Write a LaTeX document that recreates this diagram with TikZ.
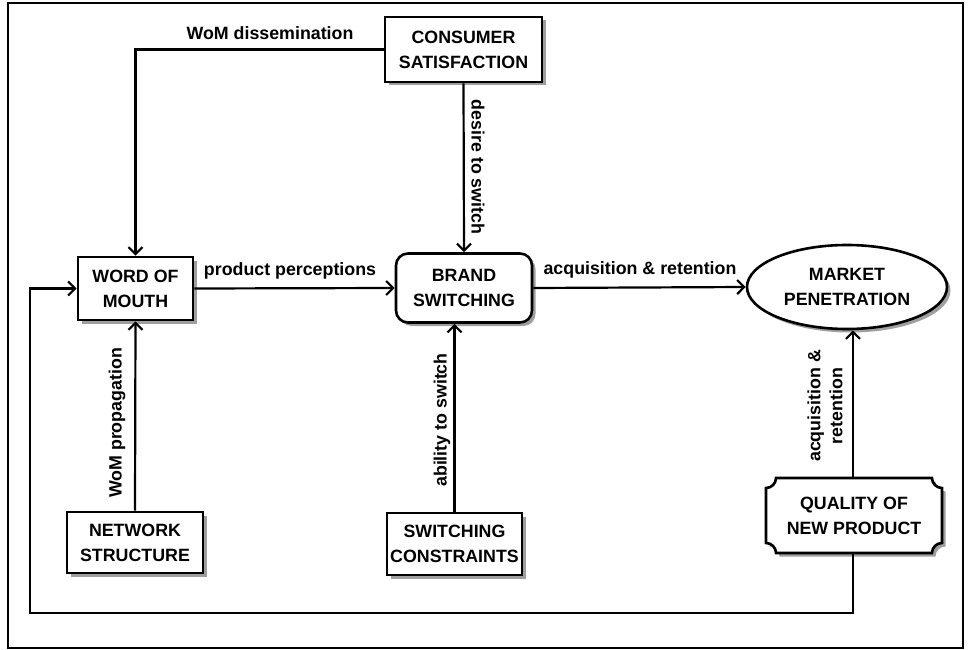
\documentclass[tikz,border=0pt]{standalone}
\usepackage{fontspec}
\setmainfont{Liberation Sans}
\usetikzlibrary{arrows.meta,shapes.geometric,shadows}
\begin{document}
\begin{tikzpicture}[x=1pt,y=-1pt,
  font=\fontsize{17.8}{25}\selectfont\bfseries,
  shad/.style={drop shadow={shadow xshift=3.5pt,shadow yshift=-3.5pt,fill=gray!75,opacity=1}},
  boxn/.style={draw,line width=2.6pt,fill=white,align=center,inner sep=0pt,shad},
  conn/.style={line width=2.2pt,-{Straight Barb[length=7pt,width=14pt,line width=2.2pt]}},
  lab/.style={inner sep=0pt}
]
\useasboundingbox (0,0) rectangle (969,650);
\draw[line width=2pt] (8,3) rectangle (963,648);

% nodes
\node[boxn,minimum width=157pt,minimum height=65pt] (cs) at (463.5,49.5) {CONSUMER\\SATISFACTION};
\node[boxn,minimum width=115pt,minimum height=63pt] (wom) at (135.5,288.5) {WORD OF\\MOUTH};
\node[boxn,rounded corners=12pt,minimum width=136pt,minimum height=69pt] (bs) at (464,288) {BRAND\\SWITCHING};
\node[boxn,ellipse,minimum width=200pt,minimum height=84pt] (mp) at (847,287) {MARKET\\PENETRATION};
\node[boxn,minimum width=136pt,minimum height=61pt] (ns) at (135,542.5) {NETWORK\\STRUCTURE};
\node[boxn,minimum width=135pt,minimum height=62pt] (sc) at (454.5,544) {SWITCHING\\CONSTRAINTS};

% quality box with concave corners
\begin{scope}[shift={(3.5pt,-3.5pt)}]
\fill[gray!75] (776,478) -- (932,478) arc[start angle=180,end angle=270,radius=10pt]
  -- (942,543) arc[start angle=90,end angle=180,radius=10pt]
  -- (776,553) arc[start angle=0,end angle=90,radius=10pt]
  -- (766,488) arc[start angle=270,end angle=360,radius=10pt] -- cycle;
\end{scope}
\draw[line width=2.6pt,fill=white] (776,478) -- (932,478) arc[start angle=180,end angle=270,radius=10pt]
  -- (942,543) arc[start angle=90,end angle=180,radius=10pt]
  -- (776,553) arc[start angle=0,end angle=90,radius=10pt]
  -- (766,488) arc[start angle=270,end angle=360,radius=10pt] -- cycle;
\node[align=center,inner sep=0pt,minimum width=176pt,minimum height=75pt] (q) at (854,515.5) {QUALITY OF\\NEW PRODUCT};

% connectors
\draw[conn] (cs.west) -| (wom.north);
\draw[conn] (cs.south) -- (bs.north);
\draw[conn] (wom.east) -- (bs.west);
\draw[conn] (bs.east) -- (mp.west);
\draw[conn] (ns.north) -- (wom.south);
\draw[conn] (sc.north) -- (sc.north |- bs.south);
\draw[conn] (q.north -| 853,0) -- (853,0 |- mp.south);
\coordinate (fb) at (30,613);
\draw[conn] (q.south -| 853,0) |- (fb) |- (wom.west);

% labels
\node[lab] (l1) at (270,33) {WoM dissemination};
\node[lab,rotate=-90] (l2) at (478,167) {desire to switch};
\node[lab] (l3) at (290,271) {product perceptions};
\node[lab] (l4) at (640,270) {acquisition \& retention};
\node[lab,rotate=90] (l5) at (117,423) {WoM propagation};
\node[lab,rotate=90] (l6) at (442,420) {ability to switch};
\node[lab,rotate=90,align=center,font=\fontsize{17.8}{22}\selectfont\bfseries] (l7) at (825,406) {acquisition \&\\retention};
\end{tikzpicture}
\end{document}
